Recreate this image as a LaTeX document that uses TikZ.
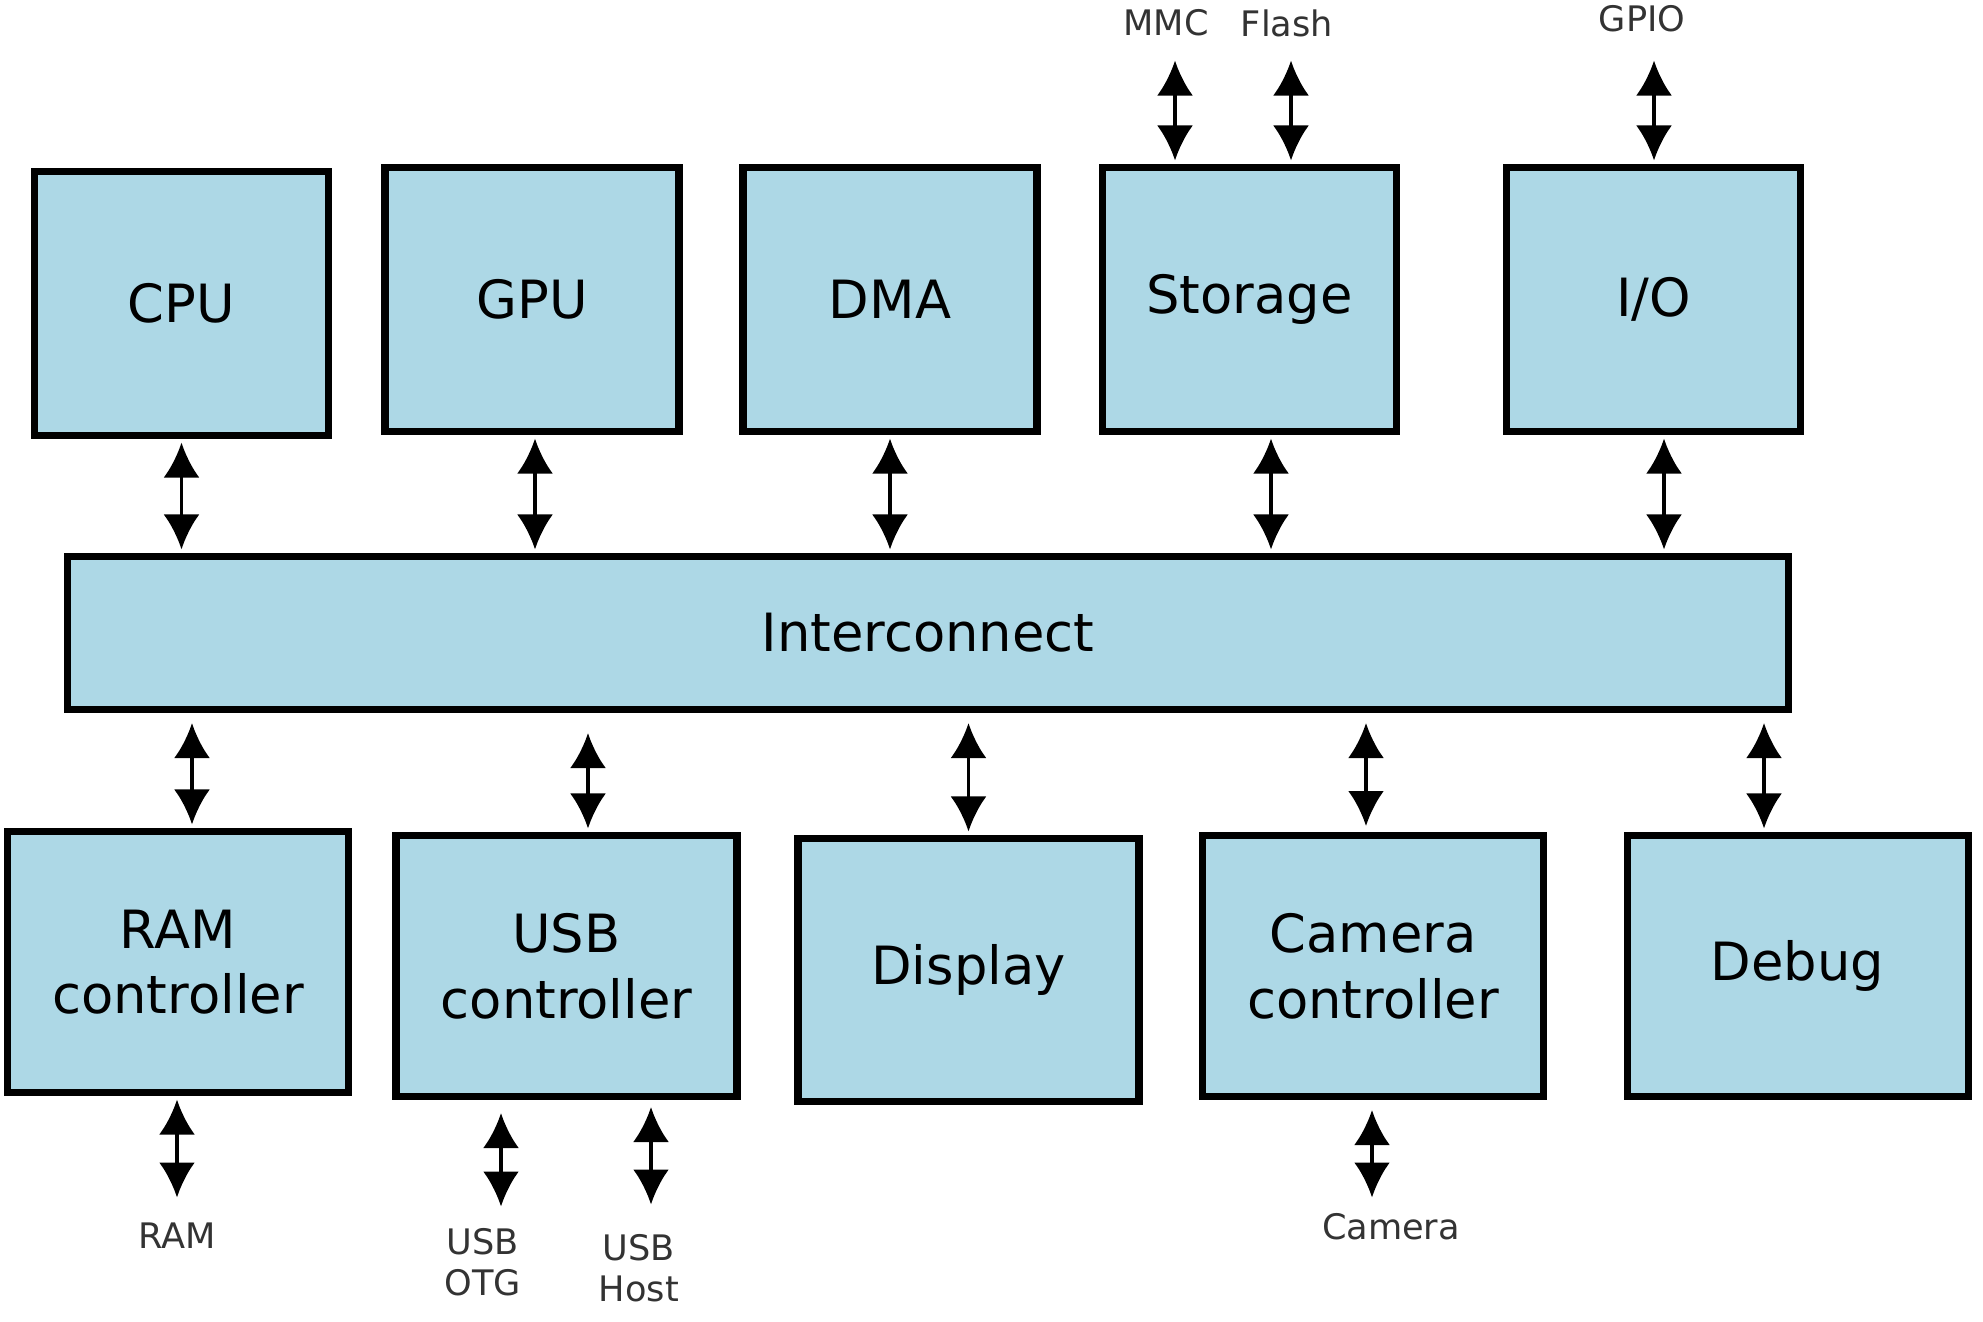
\documentclass[tikz,border=0pt]{standalone}
\usepackage{fontspec}
\setmainfont{DejaVu Sans}
\usetikzlibrary{arrows.meta}
\definecolor{lightblue}{HTML}{ADD8E6}
\begin{document}
\begin{tikzpicture}[x=1cm,y=1cm,line cap=round,
	block/.style={draw=black,line width=2pt,fill=lightblue,align=center,inner sep=0pt,font=\fontsize{15}{18.7}\selectfont},
	topblock/.style={block,minimum width=2.94cm,minimum height=2.64cm},
	lowblock/.style={block,minimum width=3.41cm,minimum height=2.61cm},
	link/.style={line width=1.1pt,shorten <=1pt,shorten >=1pt,{Latex[length=3.5mm,width=3.6mm]}-{Latex[length=3.5mm,width=3.6mm]}},
	ext/.style={align=center,inner sep=0pt,text=black!80,font=\fontsize{10}{11.5}\selectfont}]
			\useasboundingbox (0,0) rectangle (19.83,-13.21);
			% top row
			\node[topblock] (cpu) at (1.815,-3.035) {CPU};
			\node[topblock] (gpu) at (5.32,-2.995) {GPU};
			\node[topblock] (dma) at (8.90,-2.995) {DMA};
			\node[topblock] (stor) at (12.495,-2.995) {Storage};
			\node[topblock] (io) at (16.535,-2.995) {I/O};
			% bus
			\node[block,minimum width=17.21cm,minimum height=1.53cm] (ic) at (9.28,-6.33) {Interconnect};
			% bottom row
			\node[lowblock] (ramc) at (1.78,-9.62) {RAM\\controller};
			\node[lowblock] (usbc) at (5.665,-9.66) {USB\\controller};
			\node[lowblock,minimum height=2.63cm] (disp) at (9.685,-9.70) {Display};
			\node[lowblock] (camc) at (13.73,-9.66) {Camera\\controller};
			\node[lowblock] (dbg) at (17.975,-9.66) {Debug};
			% outside labels
			\node[ext] (mmc) at (11.66,-0.23) {MMC};
			\node[ext] (flash) at (12.87,-0.23) {Flash};
			\node[ext] (gpio) at (16.42,-0.19) {GPIO};
			\node[ext] (ram) at (1.77,-12.36) {RAM};
			\node[ext] (otg) at (4.83,-12.62) {USB\\OTG};
			\node[ext] (host) at (6.39,-12.68) {USB\\Host};
			\node[ext] (cam) at (13.91,-12.27) {Camera};
			\coordinate (mmcend) at (11.75,-0.57);
			\coordinate (flashend) at (12.91,-0.57);
			\coordinate (gpioend) at (16.54,-0.57);
			\coordinate (ramend) at (1.77,-12.01);
			\coordinate (otgend) at (5.01,-12.10);
			\coordinate (hostend) at (6.51,-12.08);
			\coordinate (camend) at (13.72,-12.01);
			% bus links
			\draw[link] (cpu.south) -- (cpu.south |- ic.north);
			\draw[link] ([xshift=0.3mm]gpu.south) -- ([xshift=0.3mm]gpu.south |- ic.north);
			\draw[link] (dma.south) -- (dma.south |- ic.north);
			\draw[link] ([xshift=2.15mm]stor.south) -- ([xshift=2.15mm]stor.south |- ic.north);
			\draw[link] ([xshift=1.05mm]io.south) -- ([xshift=1.05mm]io.south |- ic.north);
			\draw[link,shorten <=1mm] ([xshift=1.4mm]ramc.north |- ic.south) -- ([xshift=1.4mm]ramc.north);
			\draw[link,shorten <=2mm] ([xshift=2.15mm]usbc.north |- ic.south) -- ([xshift=2.15mm]usbc.north);
			\draw[link,shorten <=1mm] (disp.north |- ic.south) -- (disp.north);
			\draw[link,shorten <=1mm,shorten >=0.6mm] ([xshift=-0.7mm]camc.north |- ic.south) -- ([xshift=-0.7mm]camc.north);
			\draw[link,shorten <=1mm] ([xshift=-3.35mm]dbg.north |- ic.south) -- ([xshift=-3.35mm]dbg.north);
			% outside links
			\draw[link] (mmcend) -- (mmcend |- stor.north);
			\draw[link] (flashend) -- (flashend |- stor.north);
			\draw[link] (gpioend) -- (gpioend |- io.north);
			\draw[link] (ramend |- ramc.south) -- (ramend);
			\draw[link,shorten <=1.3mm] (otgend |- usbc.south) -- (otgend);
			\draw[link,shorten <=0.7mm] (hostend |- usbc.south) -- (hostend);
			\draw[link,shorten <=1mm] (camend |- camc.south) -- (camend);
		\end{tikzpicture}
\end{document}
